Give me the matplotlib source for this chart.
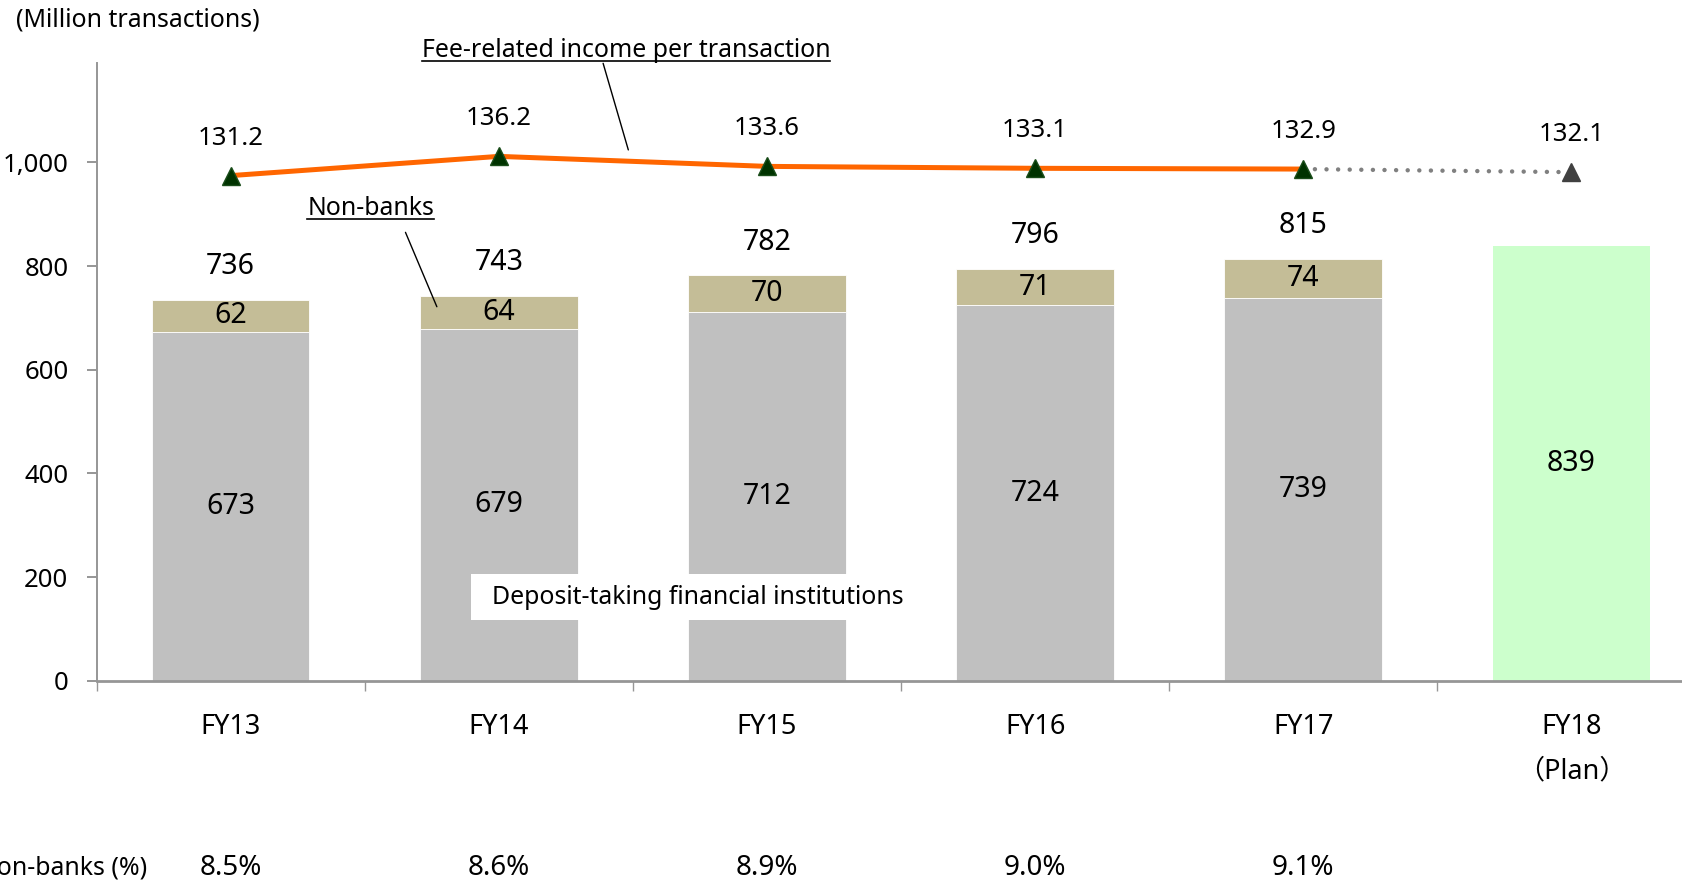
import matplotlib as mpl
mpl.use('Agg')
import matplotlib.pyplot as plt
from matplotlib.lines import Line2D
from matplotlib.patches import Rectangle
import numpy as np

# data
years = ['FY13', 'FY14', 'FY15', 'FY16', 'FY17', 'FY18\n（Plan）']
deposit = [673, 679, 712, 724, 739]
nonbanks = [62, 64, 70, 71, 74]
totals = [736, 743, 782, 796, 815]
plan = 839
fee_per_tx = [131.2, 136.2, 133.6, 133.1, 132.9, 132.1]
nonbank_pct = ['8.5%', '8.6%', '8.9%', '9.0%', '9.1%']

plt.rcParams['font.family'] = ['Noto Sans', 'Noto Sans CJK JP']

GRAY = '#C0C0C0'
TAN = '#C4BD97'
GREEN = '#CCFFCC'
ORANGE = '#FF6600'
AXIS = '#969696'
BARNUM = 20.5
NUM = 18.5
CAT = 19.5
TXT = 17.9

fig = plt.figure(figsize=(16.82, 8.82), dpi=100)
ax = fig.add_axes([0.0574, 0.2281, 0.9566, 0.7007])

x = np.arange(len(years))
xa = x[:len(deposit)]
w = 0.588

ax.bar(xa, deposit, w, color=GRAY, edgecolor='white', linewidth=0.6, zorder=2)
ax.bar(xa, nonbanks, w, bottom=deposit, color=TAN, edgecolor='white', linewidth=0.6, zorder=2)
ax.bar(x[-1], plan, w, color=GREEN, zorder=2)

for i in range(len(deposit)):
    ax.text(xa[i], deposit[i] / 2, str(deposit[i]), ha='center', va='center', fontsize=BARNUM, zorder=5)
    ax.text(xa[i], deposit[i] + nonbanks[i] / 2, str(nonbanks[i]), ha='center', va='center',
            fontsize=BARNUM, zorder=5)
    ax.annotate(str(totals[i]), (xa[i], deposit[i] + nonbanks[i]), xytext=(0, 24),
                textcoords='offset points', ha='center', va='center', fontsize=BARNUM)
ax.text(x[-1], plan / 2, str(plan), ha='center', va='center', fontsize=BARNUM, zorder=5)

ax.set_xlim(-0.5, 5.5)
ax.set_ylim(0, 1192)

# white box behind the deposit label
ax.add_patch(Rectangle((0.896, 117), 1.682, 89, facecolor='white', edgecolor='none', zorder=3))
ax.text(1.742, 161.6, 'Deposit-taking financial institutions', ha='center', va='center',
        fontsize=TXT, zorder=4)

# fee line on hidden secondary scale
ax2 = ax.twinx()
ax2.set_ylim(0, 160.5)
ax2.axis('off')
ax2.plot(x[:5], fee_per_tx[:5], color=ORANGE, lw=3.6, solid_capstyle='butt', zorder=3)
ax2.plot(x[4:], fee_per_tx[4:], color='#808080', lw=3.2, linestyle=(0, (0.01, 2.6)),
         dash_capstyle='round', zorder=3)
ax2.plot(x[:5], fee_per_tx[:5], '^', color='#003300', ms=12.5, mec='#1a4d1a', zorder=4, clip_on=False)
ax2.plot(x[5], fee_per_tx[5], '^', color='#404040', ms=12.5, zorder=4, clip_on=False)
for xi, v in zip(x, fee_per_tx):
    ax2.annotate(f'{v:.1f}', (xi, v), xytext=(0, 27), textcoords='offset points',
                 ha='center', va='center', fontsize=NUM)

# spines and ticks
for s in ['top', 'right']:
    ax.spines[s].set_visible(False)
ax.spines['left'].set_color(AXIS)
ax.spines['left'].set_linewidth(1.4)
ax.spines['bottom'].set_color(AXIS)
ax.spines['bottom'].set_linewidth(2.0)
ax.set_yticks(range(0, 1001, 200))
ax.set_yticklabels([f'{v:,}' for v in range(0, 1001, 200)])
ax.tick_params(axis='y', length=7.2, width=1.4, color=AXIS, pad=13, labelsize=NUM)
ax.set_xticks(np.arange(-0.5, 5.6, 1))
ax.set_xticklabels([])
ax.tick_params(axis='x', length=7.2, width=1.0, color=AXIS)

for xi, lab in zip(x, years):
    for k, line in enumerate(lab.split('\n')):
        ax.annotate(line, (xi, 0), xycoords=('data', 'axes fraction'),
                    xytext=(0, -33.5 - 32 * k), textcoords='offset points',
                    ha='center', va='center', fontsize=CAT, annotation_clip=False)

for xi, p in zip(xa, nonbank_pct):
    ax.annotate(p, (xi, 0), xycoords=('data', 'axes fraction'), xytext=(0, -135),
                textcoords='offset points', ha='center', va='center', fontsize=20,
                annotation_clip=False)
fig.text(147 / 1682, 1 - 868 / 882, 'Non-banks (%)', ha='right', va='center', fontsize=TXT)

fig.text(16 / 1682, 1 - 20 / 882, '(Million transactions)', ha='left', va='center', fontsize=TXT)

# callouts
fee_t = ax.text(1.474, 1203, 'Fee-related income per transaction', ha='center', va='baseline',
                fontsize=TXT)
ax.annotate('', xy=(1.483, 1024), xytext=(1.389, 1191), annotation_clip=False,
            arrowprops=dict(arrowstyle='-', lw=1, color='black', shrinkA=0, shrinkB=0))
nb_t = ax.text(0.522, 898, 'Non-banks', ha='center', va='baseline', fontsize=TXT, zorder=5)
ax.annotate('', xy=(0.769, 721.5), xytext=(0.652, 865), annotation_clip=False,
            arrowprops=dict(arrowstyle='-', lw=1, color='black', shrinkA=0, shrinkB=0), zorder=5)

fig.canvas.draw()
inv = fig.transFigure.inverted()
for t in [fee_t, nb_t]:
    bb = t.get_window_extent()
    (x0, y0), (x1, _) = inv.transform([(bb.x0, bb.y0 + 2), (bb.x1, bb.y0 + 2)])
    fig.add_artist(Line2D([x0, x1], [y0, y0], color='black', lw=1.2))

plt.savefig('out.png', dpi=100)
